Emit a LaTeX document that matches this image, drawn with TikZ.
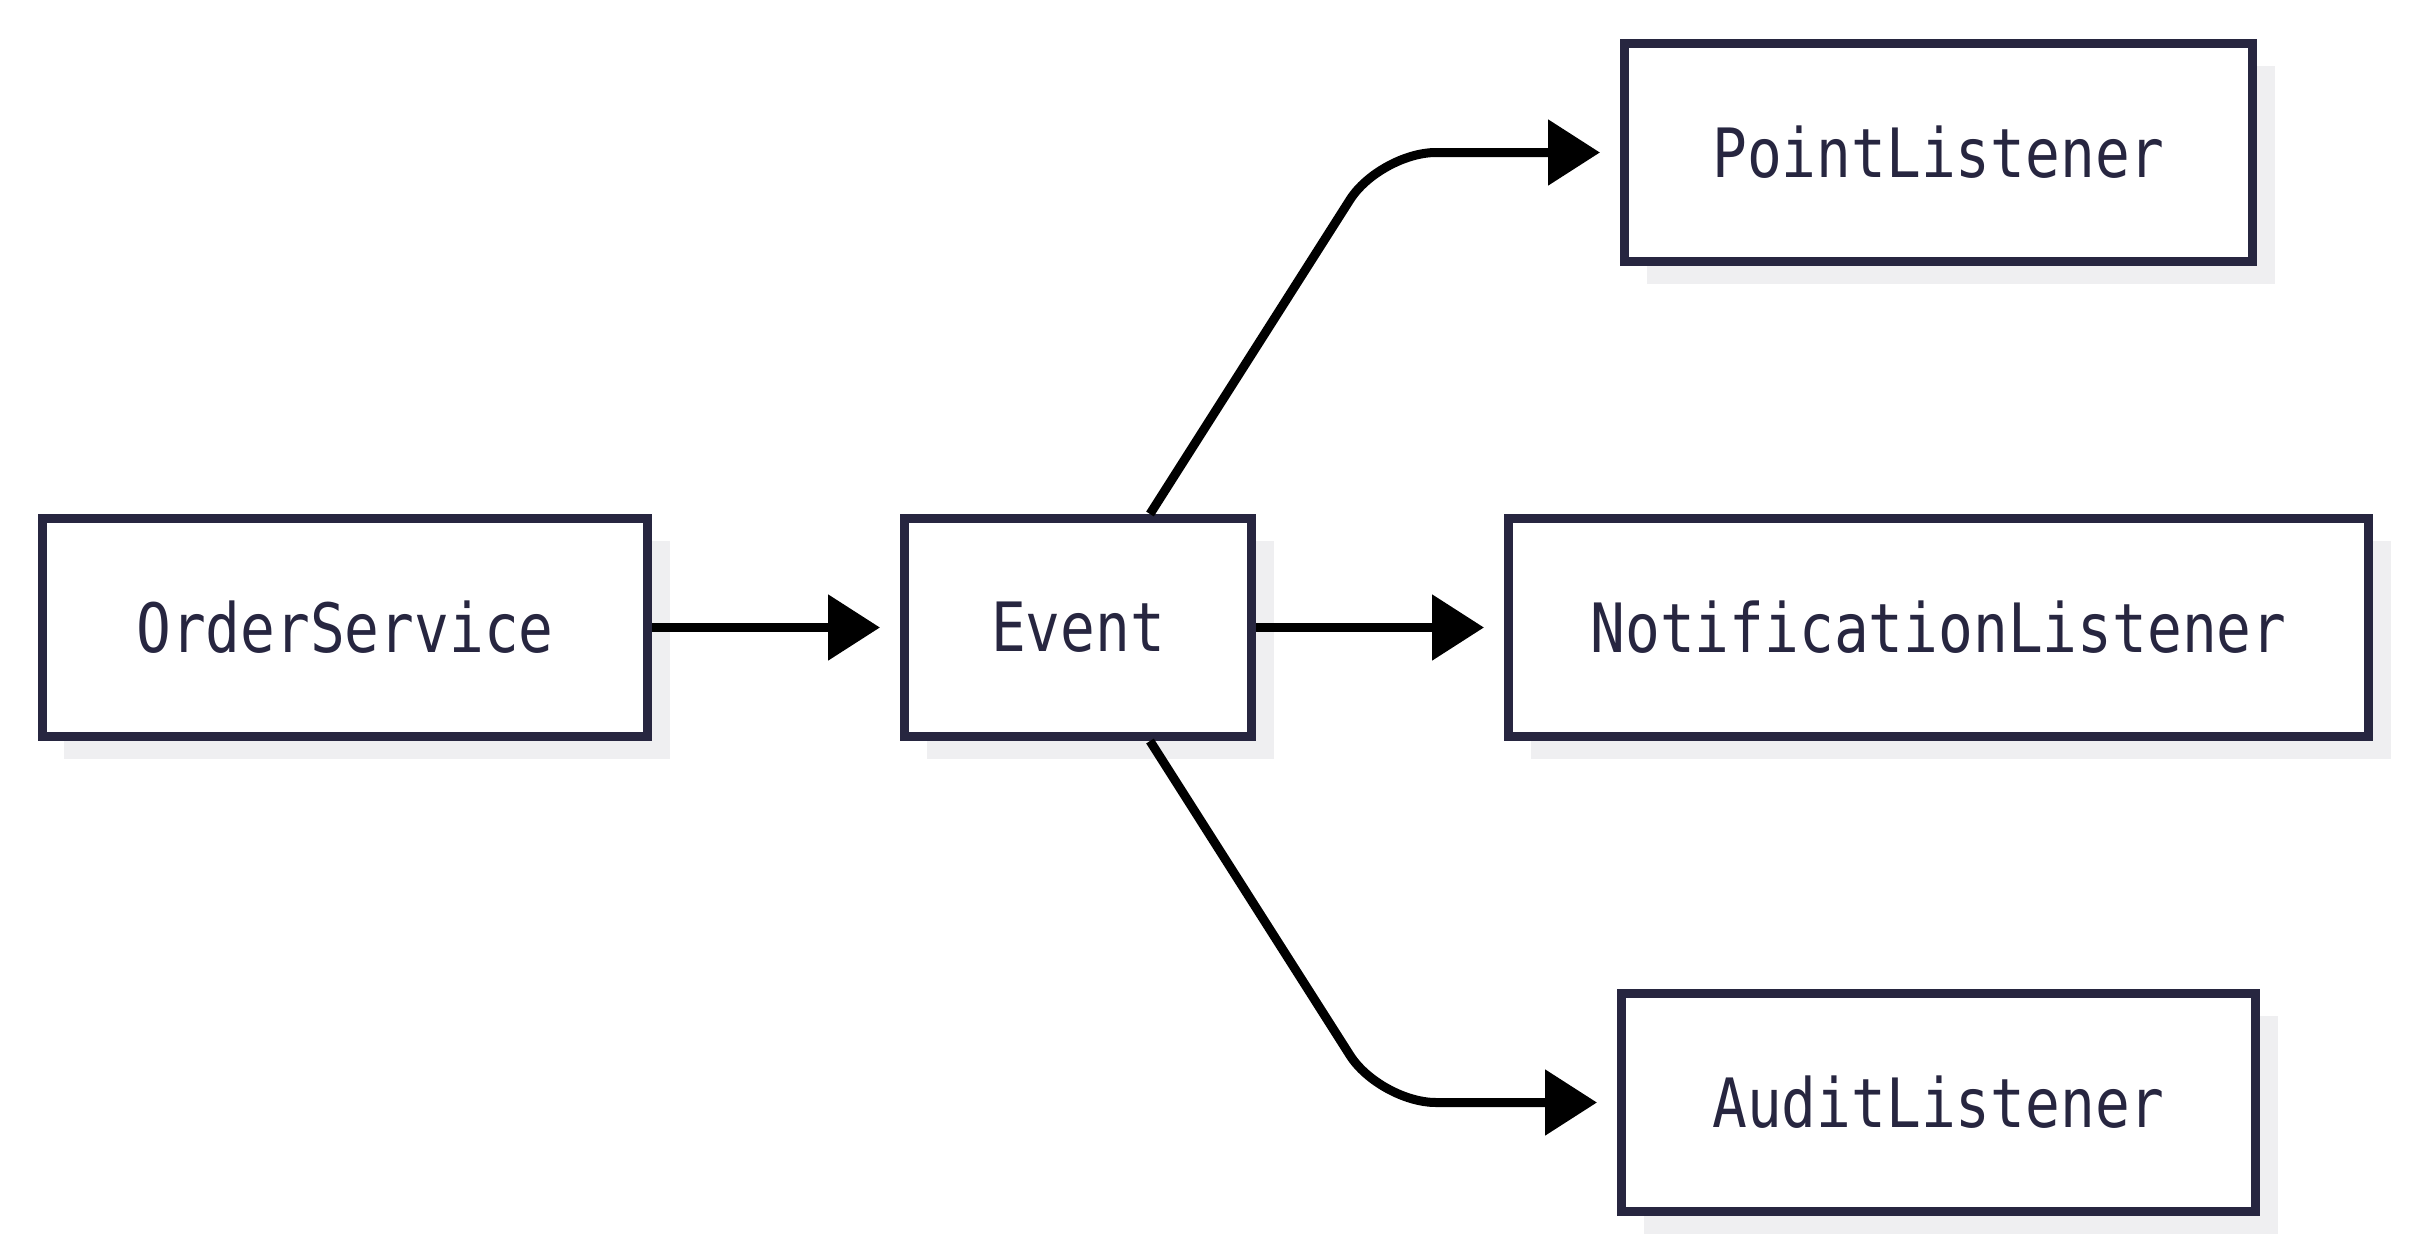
\documentclass[tikz,border=0pt]{standalone}
\usepackage{fontspec}
\newfontfamily\codefont[FakeStretch=0.85]{DejaVu Sans Mono}
\usetikzlibrary{positioning,calc,arrows.meta,shadows}
\definecolor{flowink}{RGB}{39,38,64}
\definecolor{flowshade}{RGB}{239,239,241}

\begin{document}
\begin{tikzpicture}[
      node distance=124pt,
      box/.style={rectangle, draw=flowink, line width=4.5pt, fill=white, text=flowink,
        minimum height=109pt, font=\codefont\fontsize{34}{40}\selectfont,
        drop shadow={shadow xshift=11pt, shadow yshift=-11pt, fill=flowshade, opacity=1}},
      link/.style={-{Triangle[length=26pt,width=32pt]}, line width=4.5pt, color=black, shorten >=10pt}
    ]
    \useasboundingbox (-172.5pt,-313.75pt) rectangle (1033pt,313.75pt);

    \node[box, minimum width=302.5pt] (order) at (0,0) {OrderService};
    \node[box, minimum width=173.5pt, right=of order] (event) {Event};
    \node[box, minimum width=430pt, right=of event] (notif) {NotificationListener};
    \node[box, minimum width=314pt, above=of notif] (point) {PointListener};
    \node[box, minimum width=317pt, below=of notif] (audit) {AuditListener};

    \draw[link] (order) -- (event);
    \draw[link] (event) -- (notif);
    \draw[link, rounded corners=28pt] ([xshift=36pt]event.north) -- ($(point.west)+(-120pt,0)$) -- (point.west);
    \draw[link, rounded corners=28pt] ([xshift=36pt]event.south) -- ($(audit.west)+(-118.5pt,0)$) -- (audit.west);
  \end{tikzpicture}
\end{document}
